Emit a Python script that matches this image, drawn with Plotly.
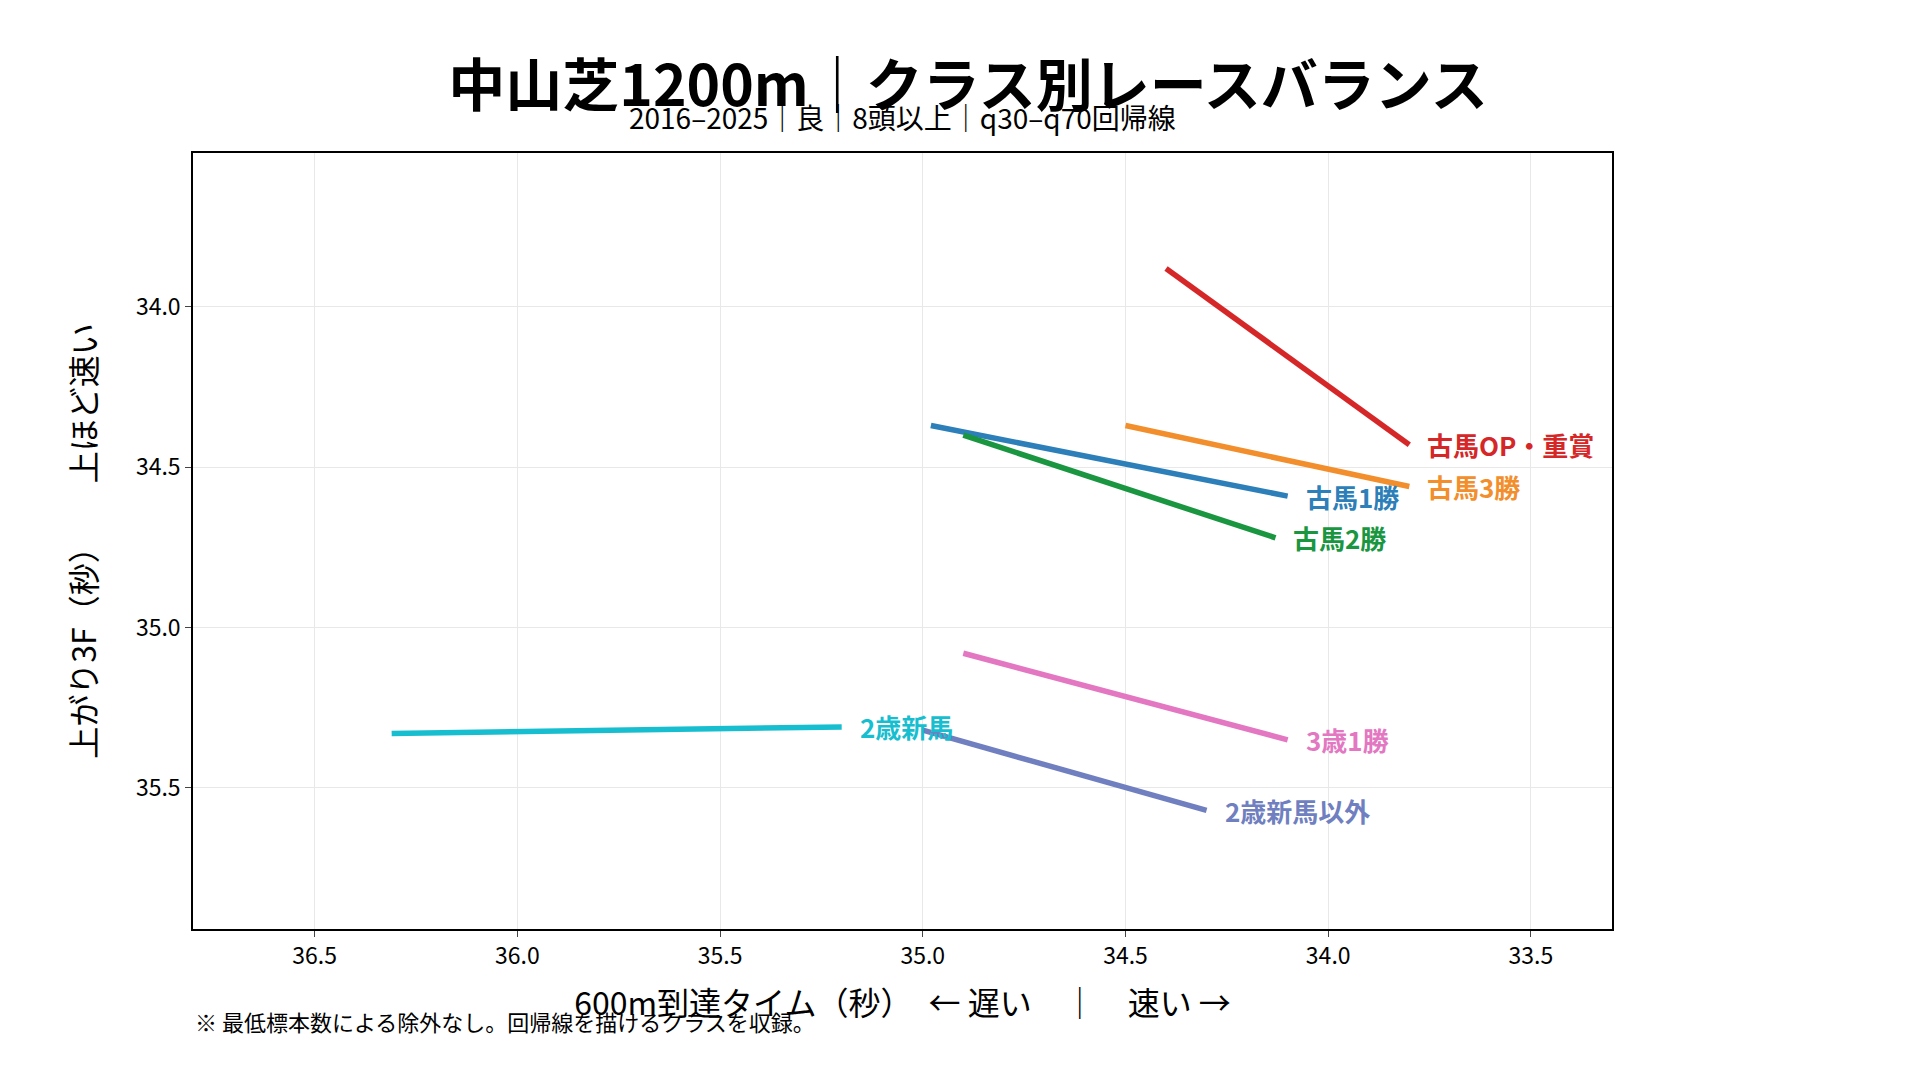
import plotly.graph_objects as go

CLASSES = ["古馬OP・重賞", "古馬3勝", "古馬1勝", "古馬2勝", "3歳1勝", "2歳新馬以外", "2歳新馬"]
COLORS = ["#d62728", "#f28e2b", "#2c7fb8", "#1a9641", "#e377c2", "#6f7fbf", "#17becf"]
X_START = [34.40, 34.50, 34.98, 34.90, 34.90, 35.00, 36.31]
Y_START = [33.88, 34.37, 34.37, 34.40, 35.08, 35.32, 35.33]
X_END = [33.80, 33.80, 34.10, 34.13, 34.10, 34.30, 35.20]
Y_END = [34.43, 34.56, 34.59, 34.72, 35.35, 35.57, 35.31]

FONT = "Noto Sans CJK JP"

fig = go.Figure()
for name, color, x0, y0, x1, y1 in zip(CLASSES, COLORS, X_START, Y_START, X_END, Y_END):
    fig.add_trace(
        go.Scatter(
            x=[x0, x1], y=[y0, y1], mode="lines", name=name,
            line={"color": color, "width": 5.5}, showlegend=False,
        )
    )
    fig.add_annotation(
        x=x1, y=y1, text=f"<b>{name}</b>", showarrow=False,
        xanchor="left", xshift=16, font={"color": color, "size": 26, "family": FONT},
    )

fig.update_layout(
    width=1920, height=1080,
    template="plotly_white",
    font={"family": FONT, "size": 23, "color": "black"},
    margin={"l": 185, "r": 316, "t": 145, "b": 159},
    title={
        "text": "<b>中山芝1200m｜クラス別レースバランス</b>",
        "x": 0.5, "xanchor": "center", "y": 0.928, "yanchor": "middle",
        "font": {"size": 57},
    },
    plot_bgcolor="white",
)
fig.add_annotation(
    text="2016–2025｜良｜8頭以上｜q30–q70回帰線", xref="paper", yref="paper",
    x=0.5, y=1.0, yanchor="bottom", yshift=14, showarrow=False, font={"size": 28},
)
fig.add_annotation(
    text="※ 最低標本数による除外なし。回帰線を描けるクラスを収録。", xref="paper", yref="paper",
    x=0, xanchor="left", y=-0.095, yanchor="top", showarrow=False, font={"size": 22},
)
axis_style = dict(
    showline=True, linecolor="black", linewidth=1.5, mirror=True,
    showgrid=True, gridcolor="#e8e8e8", ticks="outside", ticklen=6, zeroline=False,
)
fig.update_xaxes(
    range=[36.80, 33.30], dtick=0.5, tickformat=".1f",
    title={"text": "600m到達タイム（秒）　← 遅い　｜　速い →", "font": {"size": 32}, "standoff": 22},
    **axis_style,
)
fig.update_yaxes(
    range=[35.94, 33.52], dtick=0.5, tickformat=".1f",
    title={"text": "上がり3F（秒）　　上ほど速い", "font": {"size": 32}, "standoff": 30},
    **axis_style,
)

fig.write_html("out.html")
